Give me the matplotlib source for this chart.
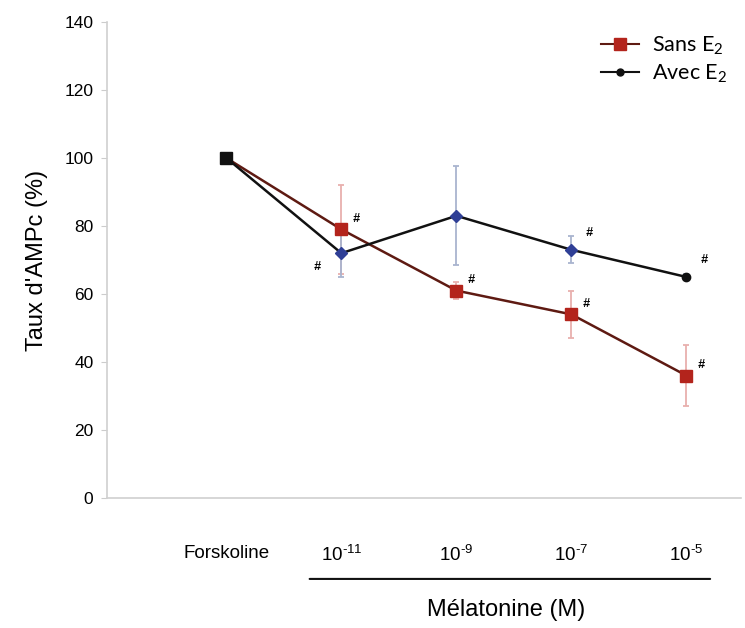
import matplotlib
matplotlib.use("Agg")
import matplotlib.pyplot as plt
from matplotlib.lines import Line2D

plt.rcParams['font.family'] = ['Liberation Sans', 'DejaVu Sans']
plt.rcParams['mathtext.default'] = 'regular'

categories = ["Forskoline", "10$^{\u2010 11}$", "10$^{\u2010 9}$", "10$^{\u2010 7}$", "10$^{\u2010 5}$"]
sans_e2 = [100, 79, 61, 54, 36]
sans_e2_err = [0, 13, 2.5, 7, 9]
avec_e2 = [100, 72, 83, 73, 65]
avec_e2_err = [0, 7, 14.5, 4, 1]
sans_sig = [False, True, True, True, True]
avec_sig = [False, True, False, True, True]
yticks = [0, 20, 40, 60, 80, 100, 120, 140]

x = list(range(len(categories)))

fig = plt.figure(figsize=(7.45, 6.28), dpi=100)
ax = fig.add_axes([0.144, 0.207, 0.85, 0.758])

red = '#b3241c'
red_line = '#5e1a12'
blue = '#2f3f96'

# error bars
eb1 = ax.errorbar(x[1:], sans_e2[1:], yerr=sans_e2_err[1:], fmt='none',
                  ecolor='#e8b0ae', elinewidth=1.3, capsize=2.5, capthick=1.3, zorder=2)
for c in eb1[1]:
    c.set_color('#333333')
eb2 = ax.errorbar(x[1:], avec_e2[1:], yerr=avec_e2_err[1:], fmt='none',
                  ecolor='#a9b4cf', elinewidth=1.3, capsize=2.5, capthick=1.3, zorder=2)
for c in eb2[1]:
    c.set_color('#333333')

ax.plot(x, sans_e2, color=red_line, lw=1.8, zorder=3)
ax.plot(x[1:], sans_e2[1:], 's', color=red, ms=9, zorder=4)
ax.plot(x, avec_e2, color='#111111', lw=1.8, zorder=3)
ax.plot(x[1:4], avec_e2[1:4], 'D', color=blue, ms=6, zorder=4)
ax.plot(x[4:], avec_e2[4:], 'o', color='#111111', ms=6, zorder=4)
ax.plot(x[0], sans_e2[0], 's', color='#111111', ms=9, zorder=5)

# significance marks
for i in range(len(x)):
    if sans_sig[i]:
        ax.text(x[i] + 0.1, sans_e2[i] + 3, '#', fontsize=9, fontweight='bold',
                style='italic', ha='left', va='center')
for i in range(len(x)):
    if avec_sig[i]:
        if i == 1:
            ax.text(x[i] - 0.18, avec_e2[i] - 4, '#', fontsize=9, fontweight='bold',
                    style='italic', ha='right', va='center')
        else:
            ax.text(x[i] + 0.12, avec_e2[i] + 5, '#', fontsize=9, fontweight='bold',
                    style='italic', ha='left', va='center')

ax.set_xlim(-1.035, 4.47)
ax.set_ylim(0, 140)
ax.set_yticks(yticks)
ax.set_yticklabels([str(v) for v in yticks], fontsize=12.5)
ax.set_xticks(x)
ax.set_xticklabels(categories, fontsize=13.5)
ax.tick_params(axis='x', length=0, pad=34)
ax.tick_params(axis='y', length=4, color='#cccccc', direction='out', pad=6)
for s in ['top', 'right']:
    ax.spines[s].set_visible(False)
for s in ['left', 'bottom']:
    ax.spines[s].set_color('#d0d0d0')
    ax.spines[s].set_linewidth(1.2)

ax.set_ylabel("Taux d'AMPc (%)", fontsize=17, labelpad=12)

# Melatonine bracket line
ax.annotate('', xy=(0.70, -0.17), xycoords=('data', 'axes fraction'),
            xytext=(4.23, -0.17), textcoords=('data', 'axes fraction'),
            arrowprops=dict(arrowstyle='-', color='#111111', lw=1.5))
ax.text(2.43, -0.235, 'Mélatonine (M)', transform=ax.get_xaxis_transform(),
        ha='center', va='center', fontsize=17)

handles = [Line2D([], [], color=red_line, lw=1.5, marker='s', markersize=8,
                  markerfacecolor=red, markeredgecolor=red),
           Line2D([], [], color='#111111', lw=1.5, marker='o', markersize=5)]
leg = ax.legend(handles, ['Sans E$_2$', 'Avec E$_2$'], loc='upper right',
                bbox_to_anchor=(1.01, 1.015), frameon=False,
                prop={'family': 'Lato', 'size': 15.5}, handlelength=1.8,
                handletextpad=0.6, labelspacing=0.3)

fig.savefig('out.png', dpi=100)
